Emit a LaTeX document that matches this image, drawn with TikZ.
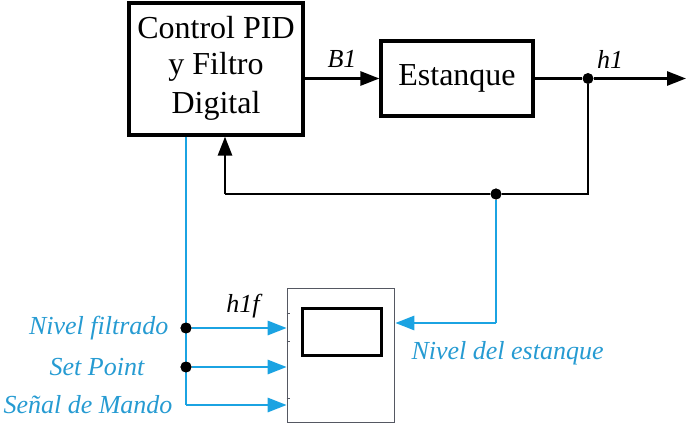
\documentclass[tikz,border=0pt]{standalone}
\usepackage{fontspec}
\setmainfont{Liberation Serif}
\newfontfamily\timesfont{Liberation Serif}
\usetikzlibrary{arrows.meta, positioning, calc}
\definecolor{sigblue}{RGB}{27,163,226}
\definecolor{labblue}{RGB}{38,155,210}
\definecolor{scopegray}{RGB}{85,88,98}
\tikzset{
    >=Latex,
    x=1pt, y=1pt,
    ctrl_block/.style={
        rectangle,
        draw=black,
        line width=3.2pt,
        minimum width=174pt,
        minimum height=132pt,
        inner sep=0pt
    },
    plant_block/.style={
        rectangle,
        draw=black,
        line width=3.2pt,
        minimum width=152pt,
        minimum height=75pt,
        inner sep=0pt
    },
    block_text/.style={
        font=\timesfont\fontsize{32}{39}\selectfont
    },
    scope_block/.style={
        rectangle,
        draw=scopegray,
        line width=1.6pt,
        minimum width=107pt,
        minimum height=134pt,
        inner sep=0pt
    },
    screen_block/.style={
        rectangle,
        draw=black,
        line width=2.4pt,
        minimum width=79pt,
        minimum height=47pt,
        inner sep=0pt
    },
    sig_arrow/.style={
        -{Triangle[length=19pt, width=14pt]},
        line width=2.8pt
    },
    sig_line/.style={
        line width=2.8pt
    },
    blue_arrow/.style={
        -{Triangle[length=19pt, width=14pt]},
        line width=2.8pt,
        draw=sigblue
    },
    blue_line/.style={
        line width=2.8pt,
        draw=sigblue
    },
    junction/.style={
        circle, fill=black, inner sep=0pt, minimum size=11pt
    },
    sig_label/.style={
        font=\timesfont\fontsize{26}{30}\selectfont\itshape
    },
    blue_label/.style={
        text=labblue,
        font=\timesfont\fontsize{26}{30}\selectfont\itshape
    }
}

\begin{document}
\begin{tikzpicture}
\useasboundingbox (0,0) rectangle (687,424);

% --- Blocks ---
\node[ctrl_block] (PID) at (216,355) {};
\node[block_text] (pidL1) at (216,396) {Control PID};
\node[block_text] (pidL2) at (216,357) {y Filtro};
\node[block_text] (pidL3) at (216,318) {Digital};
\node[plant_block] (Tank) at (457,345.5) {};
\node[block_text] (tankL) at (Tank) {Estanque};
\node[scope_block] (Scope) at (341,68.5) {};
\node[screen_block] (Screen) at (342,92) {};

% --- Points ---
\node[junction] (jOut) at (588,345.5) {};
\node[junction] (jFb) at (496,230) {};
\coordinate (Out) at (686,345.5);
\coordinate (fbCorner) at (225,230);
\coordinate (lvlIn) at (496,101);
\coordinate (pidTap) at (186,288);
\node[junction] (jFilt) at (186,96) {};
\node[junction] (jSet) at (186,57) {};
\coordinate (cmdCorner) at (186,19);

% --- Scope port ticks ---
\foreach \ty in {111,83,26}
    \draw[draw=scopegray, line width=1pt] (Scope.west |- 0,\ty) -- ++(3,0);

% --- Black edges ---
\draw[sig_arrow] (PID.east |- Tank.west) -- (Tank.west);
\draw[sig_line] (Tank.east) -- (jOut);
\draw[sig_arrow] (jOut) -- (Out);
\draw[sig_line] (jOut) |- (jFb);
\draw[sig_line] (jFb) -- (fbCorner);
\draw[sig_arrow] (fbCorner) -- (fbCorner |- PID.south);

% --- Blue edges ---
\draw[blue_line] (pidTap |- PID.south) -- (cmdCorner);
\draw[blue_arrow] (cmdCorner) -- (cmdCorner -| Scope.west);
\draw[blue_arrow] (jFilt) -- (jFilt -| Scope.west);
\draw[blue_arrow] (jSet) -- (jSet -| Scope.west);
\draw[blue_line] (jFb) -- (lvlIn);
\draw[blue_arrow] (lvlIn) -- (lvlIn -| Scope.east);
\node[junction] at (jFb) {};
\node[junction] at (jFilt) {};
\node[junction] at (jSet) {};

% --- Labels ---
\node[sig_label] (B1) at (342,365) {B1};
\node[sig_label] (h1) at (610,365) {h1};
\node[sig_label] (h1f) at (243,118) {h1f};
\node[blue_label, anchor=east] (lblFilt) at (172,96) {Nivel filtrado};
\node[blue_label] (lblSet) at (97,57) {Set Point};
\node[blue_label] (lblCmd) at (88,19) {Señal de Mando};
\node[blue_label, anchor=west] (lblLvl) at (408,71) {Nivel del estanque};

\end{tikzpicture}
\end{document}
